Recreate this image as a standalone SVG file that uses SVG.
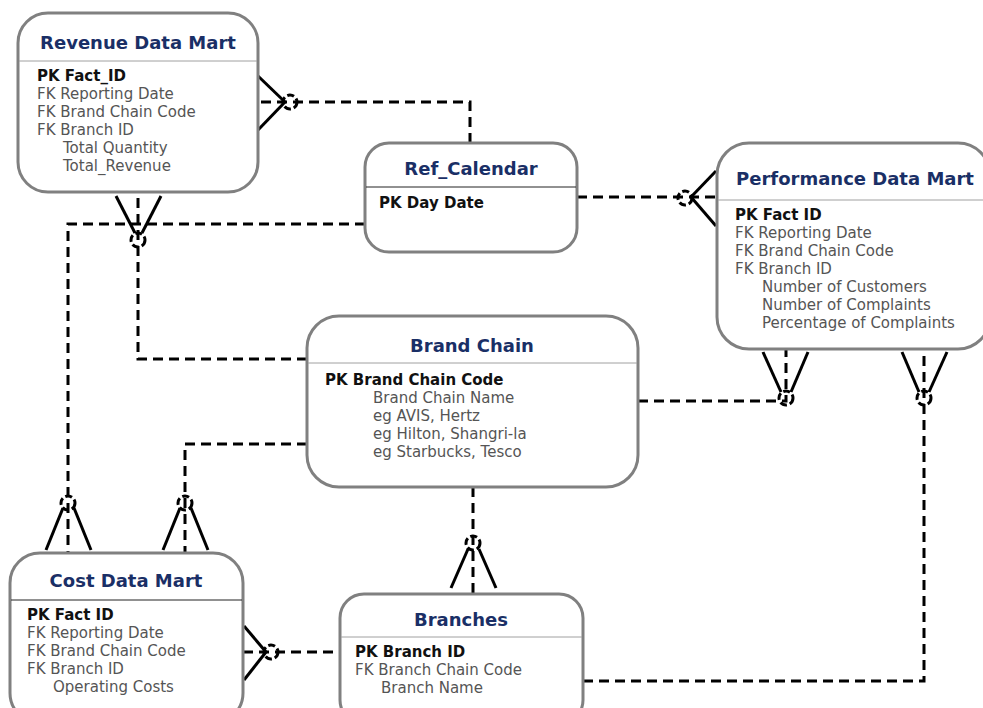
<svg xmlns="http://www.w3.org/2000/svg" width="983" height="708" viewBox="0 0 983 708">
  <style>
    .box { fill: #ffffff; stroke: #808080; stroke-width: 3; }
    .div { stroke: #a0a0a0; stroke-width: 1; }
    .divd { stroke: #222222; stroke-width: 1; }
    .title { font-family: "DejaVu Sans", Verdana, sans-serif; font-size: 18px; font-weight: bold; fill: #1a2f66; text-anchor: middle; }
    .pk { font-family: "DejaVu Sans", Verdana, sans-serif; font-size: 15px; font-weight: bold; fill: #111111; }
    .at { font-family: "DejaVu Sans", Verdana, sans-serif; font-size: 15px; fill: #555555; }
    .rel { fill: none; stroke: #000000; stroke-width: 3; stroke-dasharray: 10 6; }
    .foot { stroke: #000000; stroke-width: 3; fill: none; }
    .ring { fill: none; stroke: #000000; stroke-width: 3; stroke-dasharray: 7 3; }
  </style>

  <!-- relationships -->
  <g id="connectors">
    <!-- Ref_Calendar to Revenue Data Mart -->
    <path class="rel" d="M470,143 V102 H258"/>
    <line class="foot" x1="258" y1="76" x2="285" y2="102"/>
    <line class="foot" x1="258" y1="130" x2="285" y2="102"/>
    <circle class="ring" cx="290" cy="102" r="7"/>

    <!-- Brand Chain to Revenue Data Mart -->
    <path class="rel" d="M307,359 H138 V192"/>
    <line class="foot" x1="116" y1="196" x2="135" y2="233"/>
    <line class="foot" x1="161" y1="196" x2="142" y2="233"/>
    <circle class="ring" cx="138" cy="240" r="7"/>

    <!-- Ref_Calendar to Cost Data Mart -->
    <path class="rel" d="M365,224 H68 V553"/>
    <line class="foot" x1="46" y1="550" x2="63" y2="508"/>
    <line class="foot" x1="91" y1="550" x2="74" y2="508"/>
    <circle class="ring" cx="68" cy="503" r="7"/>

    <!-- Brand Chain to Cost Data Mart -->
    <path class="rel" d="M307,444 H185 V553"/>
    <line class="foot" x1="163" y1="550" x2="180" y2="508"/>
    <line class="foot" x1="208" y1="550" x2="191" y2="508"/>
    <circle class="ring" cx="185" cy="503" r="7"/>

    <!-- Ref_Calendar to Performance Data Mart -->
    <path class="rel" d="M577,197 H717"/>
    <line class="foot" x1="716" y1="171" x2="691" y2="197"/>
    <line class="foot" x1="716" y1="226" x2="691" y2="197"/>
    <circle class="ring" cx="685" cy="198" r="7"/>

    <!-- Brand Chain to Performance Data Mart -->
    <path class="rel" d="M638,401 H786 V350"/>
    <line class="foot" x1="763" y1="352" x2="781" y2="392"/>
    <line class="foot" x1="808" y1="352" x2="791" y2="392"/>
    <circle class="ring" cx="786" cy="398" r="7"/>

    <!-- Branches to Performance Data Mart -->
    <path class="rel" d="M583,681 H924 V350"/>
    <line class="foot" x1="902" y1="352" x2="919" y2="392"/>
    <line class="foot" x1="947" y1="352" x2="929" y2="392"/>
    <circle class="ring" cx="924" cy="398" r="7"/>

    <!-- Brand Chain to Branches -->
    <path class="rel" d="M473,487 V594"/>
    <line class="foot" x1="451" y1="588" x2="468" y2="549"/>
    <line class="foot" x1="496" y1="588" x2="479" y2="549"/>
    <circle class="ring" cx="473" cy="543" r="7"/>

    <!-- Branches to Cost Data Mart -->
    <path class="rel" d="M243,652 H340"/>
    <line class="foot" x1="244" y1="626" x2="266" y2="652"/>
    <line class="foot" x1="244" y1="680" x2="266" y2="652"/>
    <circle class="ring" cx="271" cy="652" r="7"/>
  </g>

  <!-- entities -->
  <g id="revenue-data-mart">
    <rect class="box" x="18" y="13" width="240" height="179" rx="30"/>
    <line class="div" x1="19" y1="61" x2="257" y2="61"/>
    <text class="title" x="138" y="49">Revenue Data Mart</text>
    <text class="pk" x="37" y="81">PK Fact_ID</text>
    <text class="at" x="37" y="99">FK Reporting Date</text>
    <text class="at" x="37" y="117">FK Brand Chain Code</text>
    <text class="at" x="37" y="135">FK Branch ID</text>
    <text class="at" x="63" y="153">Total Quantity</text>
    <text class="at" x="63" y="171">Total_Revenue</text>
  </g>

  <g id="ref-calendar">
    <rect class="box" x="365" y="143" width="212" height="109" rx="24"/>
    <line class="divd" x1="366" y1="187" x2="576" y2="187"/>
    <text class="title" x="471" y="175">Ref_Calendar</text>
    <text class="pk" x="379" y="208">PK Day Date</text>
  </g>

  <g id="performance-data-mart">
    <rect class="box" x="717" y="143" width="273" height="206" rx="32"/>
    <line class="div" x1="718" y1="200" x2="989" y2="200"/>
    <text class="title" x="855" y="185">Performance Data Mart</text>
    <text class="pk" x="735" y="220">PK Fact ID</text>
    <text class="at" x="735" y="238">FK Reporting Date</text>
    <text class="at" x="735" y="256">FK Brand Chain Code</text>
    <text class="at" x="735" y="274">FK Branch ID</text>
    <text class="at" x="762" y="292">Number of Customers</text>
    <text class="at" x="762" y="310">Number of Complaints</text>
    <text class="at" x="762" y="328">Percentage of Complaints</text>
  </g>

  <g id="brand-chain">
    <rect class="box" x="307" y="316" width="331" height="171" rx="32"/>
    <line class="div" x1="308" y1="363" x2="637" y2="363"/>
    <text class="title" x="472" y="352">Brand Chain</text>
    <text class="pk" x="325" y="385">PK Brand Chain Code</text>
    <text class="at" x="373" y="403">Brand Chain Name</text>
    <text class="at" x="373" y="421">eg AVIS, Hertz</text>
    <text class="at" x="373" y="439">eg Hilton, Shangri-la</text>
    <text class="at" x="373" y="457">eg Starbucks, Tesco</text>
  </g>

  <g id="cost-data-mart">
    <rect class="box" x="10" y="553" width="233" height="170" rx="30"/>
    <line class="divd" x1="11" y1="600" x2="242" y2="600"/>
    <text class="title" x="126" y="587">Cost Data Mart</text>
    <text class="pk" x="27" y="620">PK Fact ID</text>
    <text class="at" x="27" y="638">FK Reporting Date</text>
    <text class="at" x="27" y="656">FK Brand Chain Code</text>
    <text class="at" x="27" y="674">FK Branch ID</text>
    <text class="at" x="53" y="692">Operating Costs</text>
  </g>

  <g id="branches">
    <rect class="box" x="340" y="594" width="243" height="130" rx="24"/>
    <line class="div" x1="341" y1="637" x2="582" y2="637"/>
    <text class="title" x="461" y="626">Branches</text>
    <text class="pk" x="355" y="657">PK Branch ID</text>
    <text class="at" x="355" y="675">FK Branch Chain Code</text>
    <text class="at" x="381" y="693">Branch Name</text>
  </g>
</svg>
